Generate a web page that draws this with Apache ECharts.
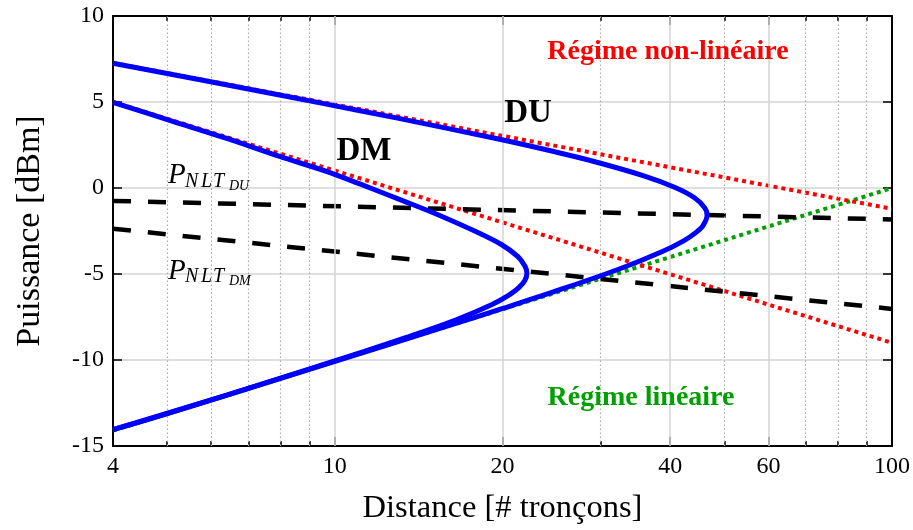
<!DOCTYPE html>
<html><head><meta charset="utf-8">
<script src="https://cdn.jsdelivr.net/npm/echarts@6/dist/echarts.min.js"></script>
<style>html,body{margin:0;padding:0;background:#fff}#c{width:913px;height:530px}</style>
</head><body><div id="c"></div>
<script>
// ---- data ----
const xMajorTicks = [4, 10, 20, 40, 60, 100];
const xMinorTicks = [5, 6, 7, 8, 9, 30, 50, 70, 80, 90];
const xMajorGrid = [10, 20, 40, 60];
const yMin = -15, yMax = 10, yStep = 5;

const redDU = [[4, 7.27], [100, -1.21]];
const redDM = [[4, 5.0], [100, -9.0]];
const greenLin = [[4, -14.1], [100, 0.0]];
const pnltDU = [[4, -0.75], [100, -1.83]];
const pnltDM = [[4, -2.37], [100, -7.03]];
const blueDU = [[4, 7.25], [7.42, 5.6], [9.51, 4.92], [12.96, 4.06], [19.57, 2.86], [24.72, 2.12], [28.98, 1.57], [35.75, 0.72], [40.72, 0.04], [44.21, -0.57], [46.17, -1.17], [46.57, -1.59], [45.83, -2.17], [44.51, -2.58], [42.27, -3.07], [38.63, -3.71], [32.24, -4.74], [24.75, -6.03], [20.09, -6.99], [16.27, -7.93], [9.91, -10.12], [4.86, -13.25], [4, -14.05]];
const blueDM = [[4, 4.98], [5.07, 3.92], [6.4, 2.88], [7.94, 1.85], [9.8, 0.9], [11.06, 0.25], [13.34, -0.78], [15.17, -1.5], [17.95, -2.55], [19.94, -3.3], [21.29, -3.98], [21.95, -4.55], [22.12, -4.95], [21.93, -5.38], [21.42, -5.78], [20.54, -6.23], [19.11, -6.79], [16.52, -7.66], [13.36, -8.72], [11.3, -9.5], [6.4, -12.04], [4, -14.05]];

const FONT = '"Liberation Serif", "Times New Roman", serif';

const chart = echarts.init(document.getElementById('c'), null, {renderer: 'canvas'});

function xAx(pos, ticks, len, withLine, withLabel) {
  return {
    type: 'log', logBase: 10, min: 4, max: 100, position: pos,
    axisLine: {show: withLine, onZero: false, lineStyle: {color: '#000', width: 2}},
    axisTick: {show: true, inside: true, length: len, customValues: ticks, lineStyle: {color: '#000', width: 1.5}},
    axisLabel: withLabel ? {show: true, customValues: ticks, showMinLabel: true, showMaxLabel: true, fontFamily: FONT, fontSize: 24, color: '#000', margin: 9, formatter: v => String(Math.round(v))} : {show: false},
    splitLine: {show: false}, minorTick: {show: false}, minorSplitLine: {show: false}
  };
}

const bottomMajor = xAx('bottom', xMajorTicks, 9, true, true);
bottomMajor.name = 'Distance [# tronçons]';
bottomMajor.nameLocation = 'middle';
bottomMajor.nameGap = 46;
bottomMajor.nameTextStyle = {fontFamily: FONT, fontSize: 32.5, color: '#000'};

function lineSeries(data, color, width, type, z) {
  return {type: 'line', data: data, xAxisIndex: 0, yAxisIndex: 0, showSymbol: false, symbol: 'none', silent: true, z: z,
    lineStyle: {color: color, width: width, type: type, cap: 'butt'}};
}

const gridMarks = xMajorGrid.map(v => ({xAxis: v, lineStyle: {color: '#d4d4d4', width: 1.5, type: 'solid'}}))
  .concat(xMinorTicks.map(v => ({xAxis: v, lineStyle: {color: '#a9a9a9', width: 1.2, type: [1.5, 2.5]}})));

const blueDUs = lineSeries(blueDU, '#0000ff', 5, 'solid', 6); blueDUs.smooth = 0.35;
const blueDMs = lineSeries(blueDM, '#0000ff', 5, 'solid', 6); blueDMs.smooth = 0.35;

function txt(s, x, y, size, opts) {
  return {type: 'text', x: x, y: y, z: 100, silent: true,
    style: Object.assign({text: s, fontFamily: FONT, fontSize: size, fill: '#000', align: 'left', verticalAlign: 'middle'}, opts || {})};
}

const option = {
  animation: false,
  backgroundColor: '#fff',
  grid: {left: 113, right: 20, top: 16, bottom: 79, containLabel: false},
  xAxis: [
    bottomMajor,
    xAx('bottom', xMinorTicks, 5, false, false),
    xAx('top', xMajorTicks, 9, true, false),
    xAx('top', xMinorTicks, 5, false, false)
  ],
  yAxis: [
    {type: 'value', min: yMin, max: yMax, interval: yStep, position: 'left',
     name: 'Puissance [dBm]', nameLocation: 'middle', nameGap: 66,
     nameTextStyle: {fontFamily: FONT, fontSize: 34, color: '#000'},
     axisLine: {show: true, onZero: false, lineStyle: {color: '#000', width: 2}},
     axisTick: {show: true, inside: true, length: 9, lineStyle: {color: '#000', width: 1.5}},
     axisLabel: {fontFamily: FONT, fontSize: 24, color: '#000', margin: 9},
     splitLine: {show: true, lineStyle: {color: '#d4d4d4', width: 1.5}}},
    {type: 'value', min: yMin, max: yMax, interval: yStep, position: 'right',
     axisLine: {show: true, onZero: false, lineStyle: {color: '#000', width: 2}},
     axisTick: {show: true, inside: true, length: 9, lineStyle: {color: '#000', width: 1.5}},
     axisLabel: {show: false}, splitLine: {show: false}}
  ],
  series: [
    {type: 'line', data: [], xAxisIndex: 0, yAxisIndex: 0, silent: true, z: 1,
     markLine: {silent: true, symbol: ['none', 'none'], animation: false, label: {show: false}, emphasis: {disabled: true}, data: gridMarks}},
    lineSeries(greenLin, '#00a000', 4, [4, 4], 3),
    lineSeries(redDU, '#ff0000', 4, [4, 4], 3),
    lineSeries(redDM, '#ff0000', 4, [4, 4], 3),
    lineSeries(pnltDU, '#000000', 4.5, [18, 17], 4),
    lineSeries(pnltDM, '#000000', 4.5, [18, 17], 4),
    blueDUs, blueDMs
  ],
  graphic: [
    txt('Régime non-linéaire', 668, 52, 28, {fontWeight: 'bold', fill: '#ff0000', align: 'center'}),
    txt('Régime linéaire', 641, 398, 28, {fontWeight: 'bold', fill: '#00a000', align: 'center'}),
    txt('DU', 528, 113, 33, {fontWeight: 'bold', align: 'center'}),
    txt('DM', 364, 151, 33, {fontWeight: 'bold', align: 'center'}),
    // P_{NLT_{DU}}
    txt('P', 168, 175, 29, {fontStyle: 'italic'}),
    txt('N', 185, 181.5, 20, {fontStyle: 'italic'}),
    txt('L', 201, 181.5, 20, {fontStyle: 'italic'}),
    txt('T', 213, 181.5, 20, {fontStyle: 'italic'}),
    txt('DU', 229, 186, 14, {fontStyle: 'italic'}),
    // P_{NLT_{DM}}
    txt('P', 168, 271, 29, {fontStyle: 'italic'}),
    txt('N', 185, 277, 20, {fontStyle: 'italic'}),
    txt('L', 201, 277, 20, {fontStyle: 'italic'}),
    txt('T', 213, 277, 20, {fontStyle: 'italic'}),
    txt('DM', 229, 281.5, 14, {fontStyle: 'italic'})
  ]
};
chart.setOption(option);
</script>
</body></html>
